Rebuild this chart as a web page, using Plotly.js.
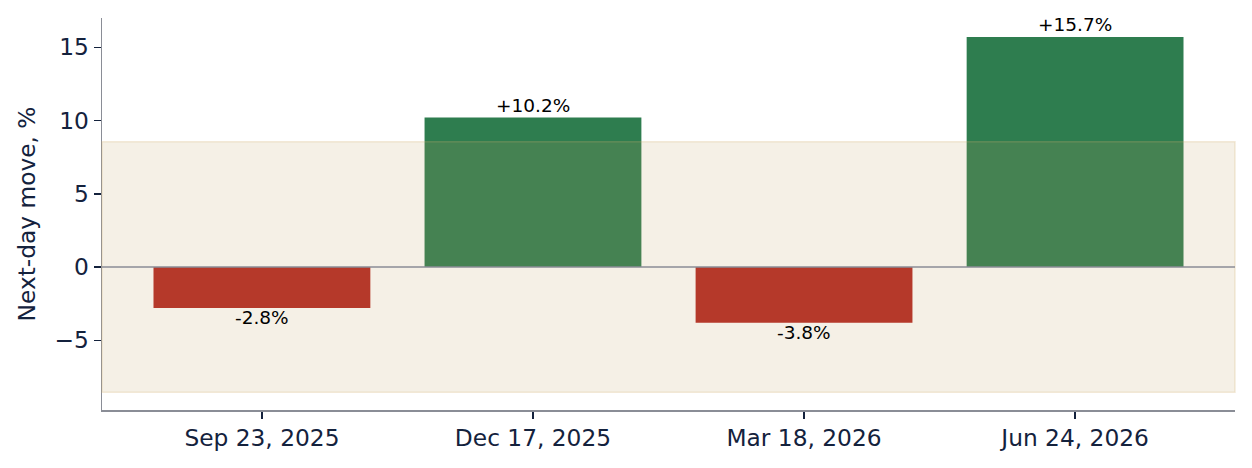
<!DOCTYPE html>
<html>
<head>
<meta charset="utf-8">
<script src="https://cdn.plot.ly/plotly-3.0.1.min.js"></script>
<style>
  html, body { margin: 0; padding: 0; background: #ffffff; }
  #chart { width: 1252px; height: 468px; }
</style>
</head>
<body>
<div id="chart"></div>
<script>
// earnings dates and next-day moves (%)
var dates = ["Sep 23, 2025", "Dec 17, 2025", "Mar 18, 2026", "Jun 24, 2026"];
var moves = [-2.8, 10.2, -3.8, 15.7];
var bandLimit = 8.55; // shaded "expected move" band, +/- %

var navy = "#14223d";
var spine = "#8a8d96";

var barColors = moves.map(function (v) { return v >= 0 ? "#2e7d4f" : "#b3251f"; });
var labels = moves.map(function (v) { return (v >= 0 ? "+" : "") + v.toFixed(1) + "%"; });

var data = [
  {
    type: "bar",
    x: dates,
    y: moves,
    width: 0.8,
    marker: { color: barColors, line: { width: 0 } },
    hoverinfo: "x+y"
  }
];

// value labels: above green bars, below red ones
var annotations = moves.map(function (v, i) {
  return {
    x: dates[i],
    y: v,
    xref: "x",
    yref: "y",
    text: labels[i],
    showarrow: false,
    xanchor: "center",
    yanchor: v >= 0 ? "bottom" : "top",
    yshift: v >= 0 ? 1 : 2,
    borderpad: 0,
    font: { family: "DejaVu Sans", size: 18.5, color: "#000000" }
  };
});

var layout = {
  width: 1252,
  height: 468,
  margin: { l: 102, r: 17, t: 18, b: 58 },
  paper_bgcolor: "#ffffff",
  plot_bgcolor: "#ffffff",
  font: { family: "DejaVu Sans", color: navy, size: 23.3 },
  showlegend: false,
  bargap: 0.2,
  xaxis: {
    type: "category",
    range: [-0.59, 3.59],
    showgrid: false,
    zeroline: false,
    showline: true,
    linecolor: spine,
    linewidth: 1.5,
    ticks: "outside",
    ticklen: 7,
    tickwidth: 1.5,
    tickcolor: navy,
    tickfont: { size: 23.3, color: navy }
  },
  yaxis: {
    range: [-9.76, 17.0],
    tickvals: [-5, 0, 5, 10, 15],
    showgrid: false,
    zeroline: false,
    showline: true,
    linecolor: spine,
    linewidth: 1.5,
    ticks: "outside",
    ticklen: 7,
    tickwidth: 1.5,
    tickcolor: navy,
    tickfont: { size: 23.3, color: navy },
    title: { text: "Next-day move, %", font: { size: 23.3, color: navy }, standoff: 12 }
  },
  annotations: annotations,
  shapes: [
    {
      type: "rect",
      xref: "paper", x0: 0, x1: 1,
      yref: "y", y0: -bandLimit, y1: bandLimit,
      fillcolor: "rgba(193,161,99,0.16)",
      line: { color: "rgba(210,175,110,0.25)", width: 1.5 },
      layer: "above"
    },
    {
      type: "line",
      xref: "paper", x0: 0, x1: 1,
      yref: "y", y0: 0, y1: 0,
      line: { color: spine, width: 1.5 },
      layer: "above"
    }
  ]
};

Plotly.newPlot("chart", data, layout, { displayModeBar: false, staticPlot: true });
</script>
</body>
</html>
